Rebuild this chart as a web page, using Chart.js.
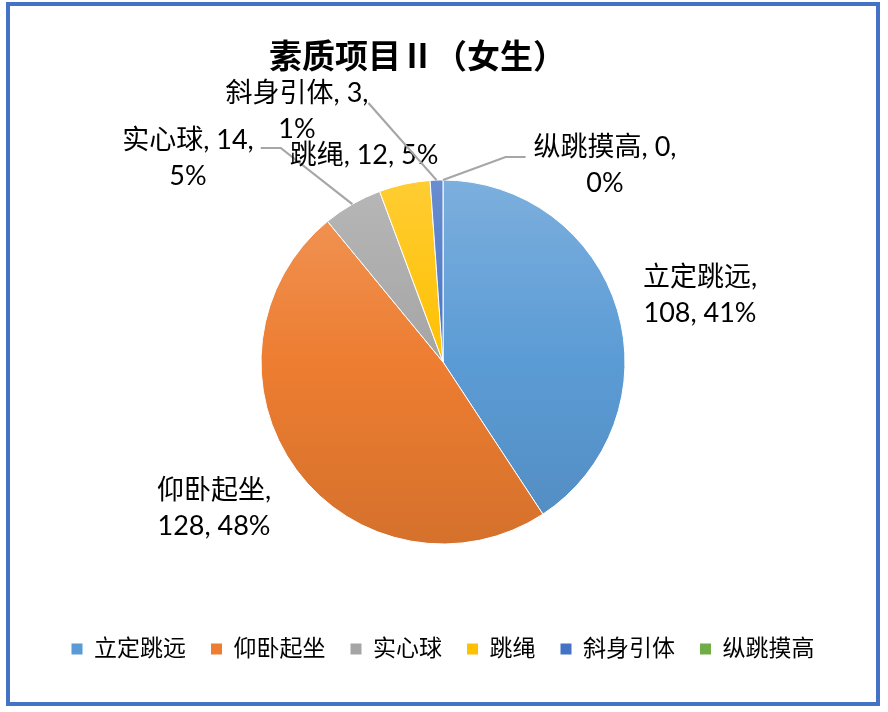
<!DOCTYPE html>
<html>
<head>
<meta charset="utf-8">
<title>素质项目Ⅱ（女生）</title>
<script src="https://cdn.jsdelivr.net/npm/chart.js@4.4.0/dist/chart.umd.min.js"></script>
<style>
  html, body { margin: 0; padding: 0; background: #fff; }
  canvas { display: block; }
</style>
</head>
<body>
<canvas id="chart" width="888" height="712"></canvas>
<script>
const titleText = '素质项目Ⅱ（女生）';
const categories = ['立定跳远', '仰卧起坐', '实心球', '跳绳', '斜身引体', '纵跳摸高'];
const values = [108, 128, 14, 12, 3, 0];
const colors = ['#5b9bd5', '#ed7d31', '#a5a5a5', '#ffc000', '#4472c4', '#70ad47'];
// where the data label wraps: 1 = after the name, 2 = after the value, 0 = one line
const labelBreaks = [1, 1, 2, 0, 2, 2];

// label placement, offset from the pie centre (Excel moved these by hand)
const labelSpots = [
  { dx: 257, dy: -67 },
  { dx: -229, dy: 146 },
  { dx: -255, dy: -204, leader: { side: 'right', dy: -10, gap: 7, stub: 20 } },
  { dx: -79, dy: -207 },
  { dx: -146, dy: -251, leader: { side: 'right', dy: -8, gap: 0, stub: 0 } },
  { dx: 162, dy: -197, leader: { side: 'left', dy: -8, gap: 8, stub: 20 } }
];

const PIE_R = 182;
const LINE_H = 36;
const FONT = 'Lato, "Noto Sans CJK SC", sans-serif';

function shade(hex, amt) {
  const n = parseInt(hex.slice(1), 16);
  const t = amt < 0 ? 0 : 255, p = Math.abs(amt);
  const mix = c => Math.round(c + (t - c) * p);
  return `rgb(${mix(n >> 16)},${mix((n >> 8) & 255)},${mix(n & 255)})`;
}

// office style gradient, light on top, a bit darker at the bottom
function sliceFill(ctx) {
  const chart = ctx.chart, area = chart.chartArea;
  const base = colors[ctx.dataIndex];
  if (!area) return base;
  const cy = (area.top + area.bottom) / 2;
  const g = chart.ctx.createLinearGradient(0, cy - PIE_R, 0, cy + PIE_R);
  g.addColorStop(0, shade(base, 0.2));
  g.addColorStop(0.5, base);
  g.addColorStop(1, shade(base, -0.1));
  return g;
}

const frame = {
  id: 'frame',
  beforeDraw(chart) {
    const {ctx, width, height} = chart;
    ctx.save();
    ctx.fillStyle = '#fff';
    ctx.fillRect(0, 0, width, height);
    ctx.restore();
  },
  afterDraw(chart) {
    const {ctx} = chart;
    ctx.save();
    ctx.strokeStyle = '#4472c4';
    ctx.lineWidth = 4;
    ctx.strokeRect(8, 4, 870, 700);
    ctx.fillStyle = '#000';
    ctx.font = 'bold 33px "Noto Sans CJK SC", sans-serif';
    ctx.textAlign = 'left';
    ctx.textBaseline = 'middle';
    ctx.fillText(titleText, 269, 55);
    ctx.restore();
  }
};

const pieLabels = {
  id: 'pieLabels',
  afterDatasetsDraw(chart) {
    const {ctx} = chart;
    const meta = chart.getDatasetMeta(0);
    const total = values.reduce((a, b) => a + b, 0);
    ctx.save();
    ctx.font = '27px ' + FONT;
    ctx.textAlign = 'center';
    ctx.textBaseline = 'middle';
    ctx.strokeStyle = '#a6a6a6';
    ctx.lineWidth = 2.2;
    ctx.fillStyle = '#000';
    meta.data.forEach((arc, i) => {
      const {x, y, startAngle, endAngle, outerRadius} =
        arc.getProps(['x', 'y', 'startAngle', 'endAngle', 'outerRadius'], true);
      const pct = Math.round(values[i] / total * 100) + '%';
      const parts = [categories[i] + ',', values[i] + ',', pct];
      const cut = labelBreaks[i];
      const lines = cut === 0 ? [parts.join(' ')]
        : [parts.slice(0, cut).join(' '), parts.slice(cut).join(' ')];
      const spot = labelSpots[i];
      const cx = x + spot.dx, cy = y + spot.dy;
      if (spot.leader) {
        const L = spot.leader;
        const w = Math.max(...lines.map(l => ctx.measureText(l).width));
        const dir = L.side === 'right' ? 1 : -1;
        const sx = cx + dir * (w / 2 + L.gap), sy = cy + L.dy;
        const mid = (startAngle + endAngle) / 2;
        ctx.beginPath();
        ctx.moveTo(sx, sy);
        ctx.lineTo(sx + dir * L.stub, sy);
        ctx.lineTo(x + Math.cos(mid) * outerRadius, y + Math.sin(mid) * outerRadius);
        ctx.stroke();
      }
      const top = cy - (lines.length - 1) * LINE_H / 2;
      lines.forEach((l, k) => ctx.fillText(l, cx, top + k * LINE_H));
    });
    ctx.restore();
  }
};

const baseLabels = Chart.overrides.pie.plugins.legend.labels.generateLabels;

new Chart(document.getElementById('chart'), {
  type: 'pie',
  data: {
    labels: categories,
    datasets: [{
      data: values,
      backgroundColor: sliceFill,
      borderColor: '#ffffff',
      borderWidth: 1,
      radius: PIE_R
    }]
  },
  options: {
    responsive: false,
    animation: false,
    layout: { padding: { top: 111.5, bottom: 41.5, left: 0, right: 2 } },
    plugins: {
      title: { display: false },
      tooltip: { enabled: false },
      legend: {
        position: 'bottom',
        labels: {
          color: '#000',
          font: { family: FONT, size: 23 },
          boxWidth: 11,
          boxHeight: 11,
          padding: 25,
          generateLabels(chart) {
            return baseLabels(chart).map((item, i) => Object.assign(item, {
              fillStyle: colors[i], strokeStyle: colors[i], lineWidth: 0
            }));
          }
        }
      }
    }
  },
  plugins: [frame, pieLabels]
});
</script>
</body>
</html>
